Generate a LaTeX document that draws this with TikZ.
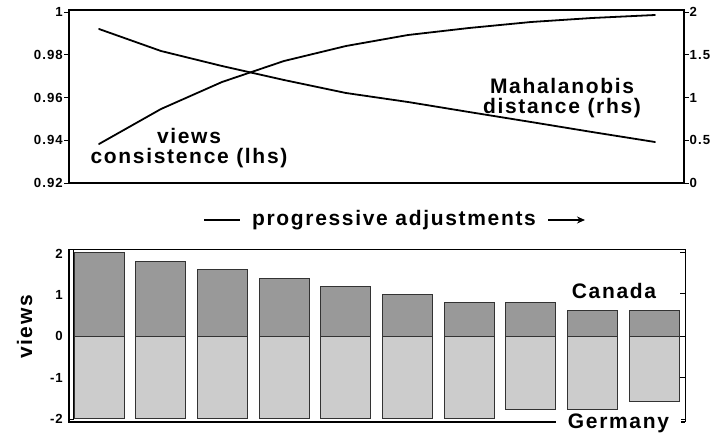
\documentclass[tikz,border=0pt]{standalone}
\usepackage{fontspec}
\setmainfont{Liberation Sans}[LetterSpace=8]
\usetikzlibrary{arrows.meta}
\definecolor{canada}{HTML}{999999}
\definecolor{germany}{HTML}{CCCCCC}
\definecolor{barline}{HTML}{333333}
\tikzset{
  lab/.style={font=\bfseries\fontsize{21}{23}\selectfont, inner sep=0pt},
  ticklab/.style={font=\bfseries\fontsize{13.2}{15}\selectfont, inner sep=0pt},
  frame/.style={line width=1.5pt},
  thinframe/.style={line width=1pt},
  curve/.style={line width=1.8pt, line join=round, line cap=round},
  can/.style={fill=canada, draw=barline, line width=1pt},
  ger/.style={fill=germany, draw=barline, line width=1pt},
}
\begin{document}
\begin{tikzpicture}[x=1pt,y=-1pt]
\useasboundingbox (0,0) rectangle (712,434);
% ---------- top chart ----------
\draw[frame] (69,10) rectangle (684,183);
\foreach \y/\t in {12/1, 54.75/0.98, 97.5/0.96, 140.25/0.94, 183/0.92}{
  \draw[thinframe] (64,\y) -- (69,\y);
  \node[ticklab, anchor=east] at (63,\y) {\t};
}
\foreach \y/\t in {12/2, 54.75/1.5, 97.5/1, 140.25/0.5, 183/0}{
  \draw[thinframe] (684,\y) -- (689,\y);
  \node[ticklab, anchor=west] at (689.5,\y) {\t};
}
\draw[curve] (99,144) -- (161,109) -- (222,82) -- (284,61) -- (346,46) -- (408,35) -- (469,28) -- (531,22) -- (592,18) -- (655,15);
\draw[curve] (99,29) -- (161,51) -- (222,66) -- (284,80) -- (346,93) -- (408,102) -- (469,112) -- (531,122) -- (592,132) -- (655,142);
\node[lab, anchor=base] (lv) at (189,143) {views};
\node[lab, anchor=base] (lc) at (189,163) {consistence (lhs)};
\node[lab, anchor=base] (lm) at (562,93) {Mahalanobis};
\node[lab, anchor=base] (ld) at (562,113) {distance (rhs)};
% ---------- caption ----------
\coordinate (d1) at (204,220);
\coordinate (d2) at (240,220);
\draw[line width=2.4pt] (d1) -- (d2);
\node[lab, anchor=base] (prog) at (394,225.5) {progressive adjustments};
\coordinate (a1) at (548,220);
\coordinate (a2) at (585,220);
\draw[line width=2.2pt, -{Stealth[length=8pt,width=7pt]}] (a1) -- (a2);
% ---------- bottom chart ----------
\draw[thinframe] (69,249) -- (685,249);
\draw[frame] (69,249) -- (69,422) -- (685,422);
\draw[thinframe] (685,249) -- (685,422);
\draw[line width=0.8pt] (73,249) -- (73,419) -- (69,419);
\foreach \y in {252, 293.5, 336, 377.5, 419}{
  \draw[thinframe] (680,\y) -- (685,\y);
}
\foreach \y/\t in {253.5/2, 294.5/1, 336/0, 377.5/-1, 418.5/-2}{
  \node[ticklab, anchor=east] at (63,\y) {\t};
}
\foreach \i/\top/\bot in {0/252/418, 1/261/418, 2/269/418, 3/278/418, 4/286/418, 5/294/418, 6/302/418, 7/302/409, 8/310/409, 9/310/401}{
  \pgfmathsetmacro{\xl}{74+61.67*\i}
  \pgfmathsetmacro{\xr}{\xl+50}
  \draw[ger] (\xl,336) rectangle (\xr,\bot);
  \draw[can] (\xl,\top) rectangle (\xr,336);
}
\node[lab, anchor=base] (can) at (614,298) {Canada};
\node[lab, anchor=base, fill=white, inner xsep=12pt, inner ysep=1pt] (ger) at (618.5,428) {Germany};
\node[lab, anchor=base, rotate=90] (views) at (32,327) {views};
\end{tikzpicture}
\end{document}
